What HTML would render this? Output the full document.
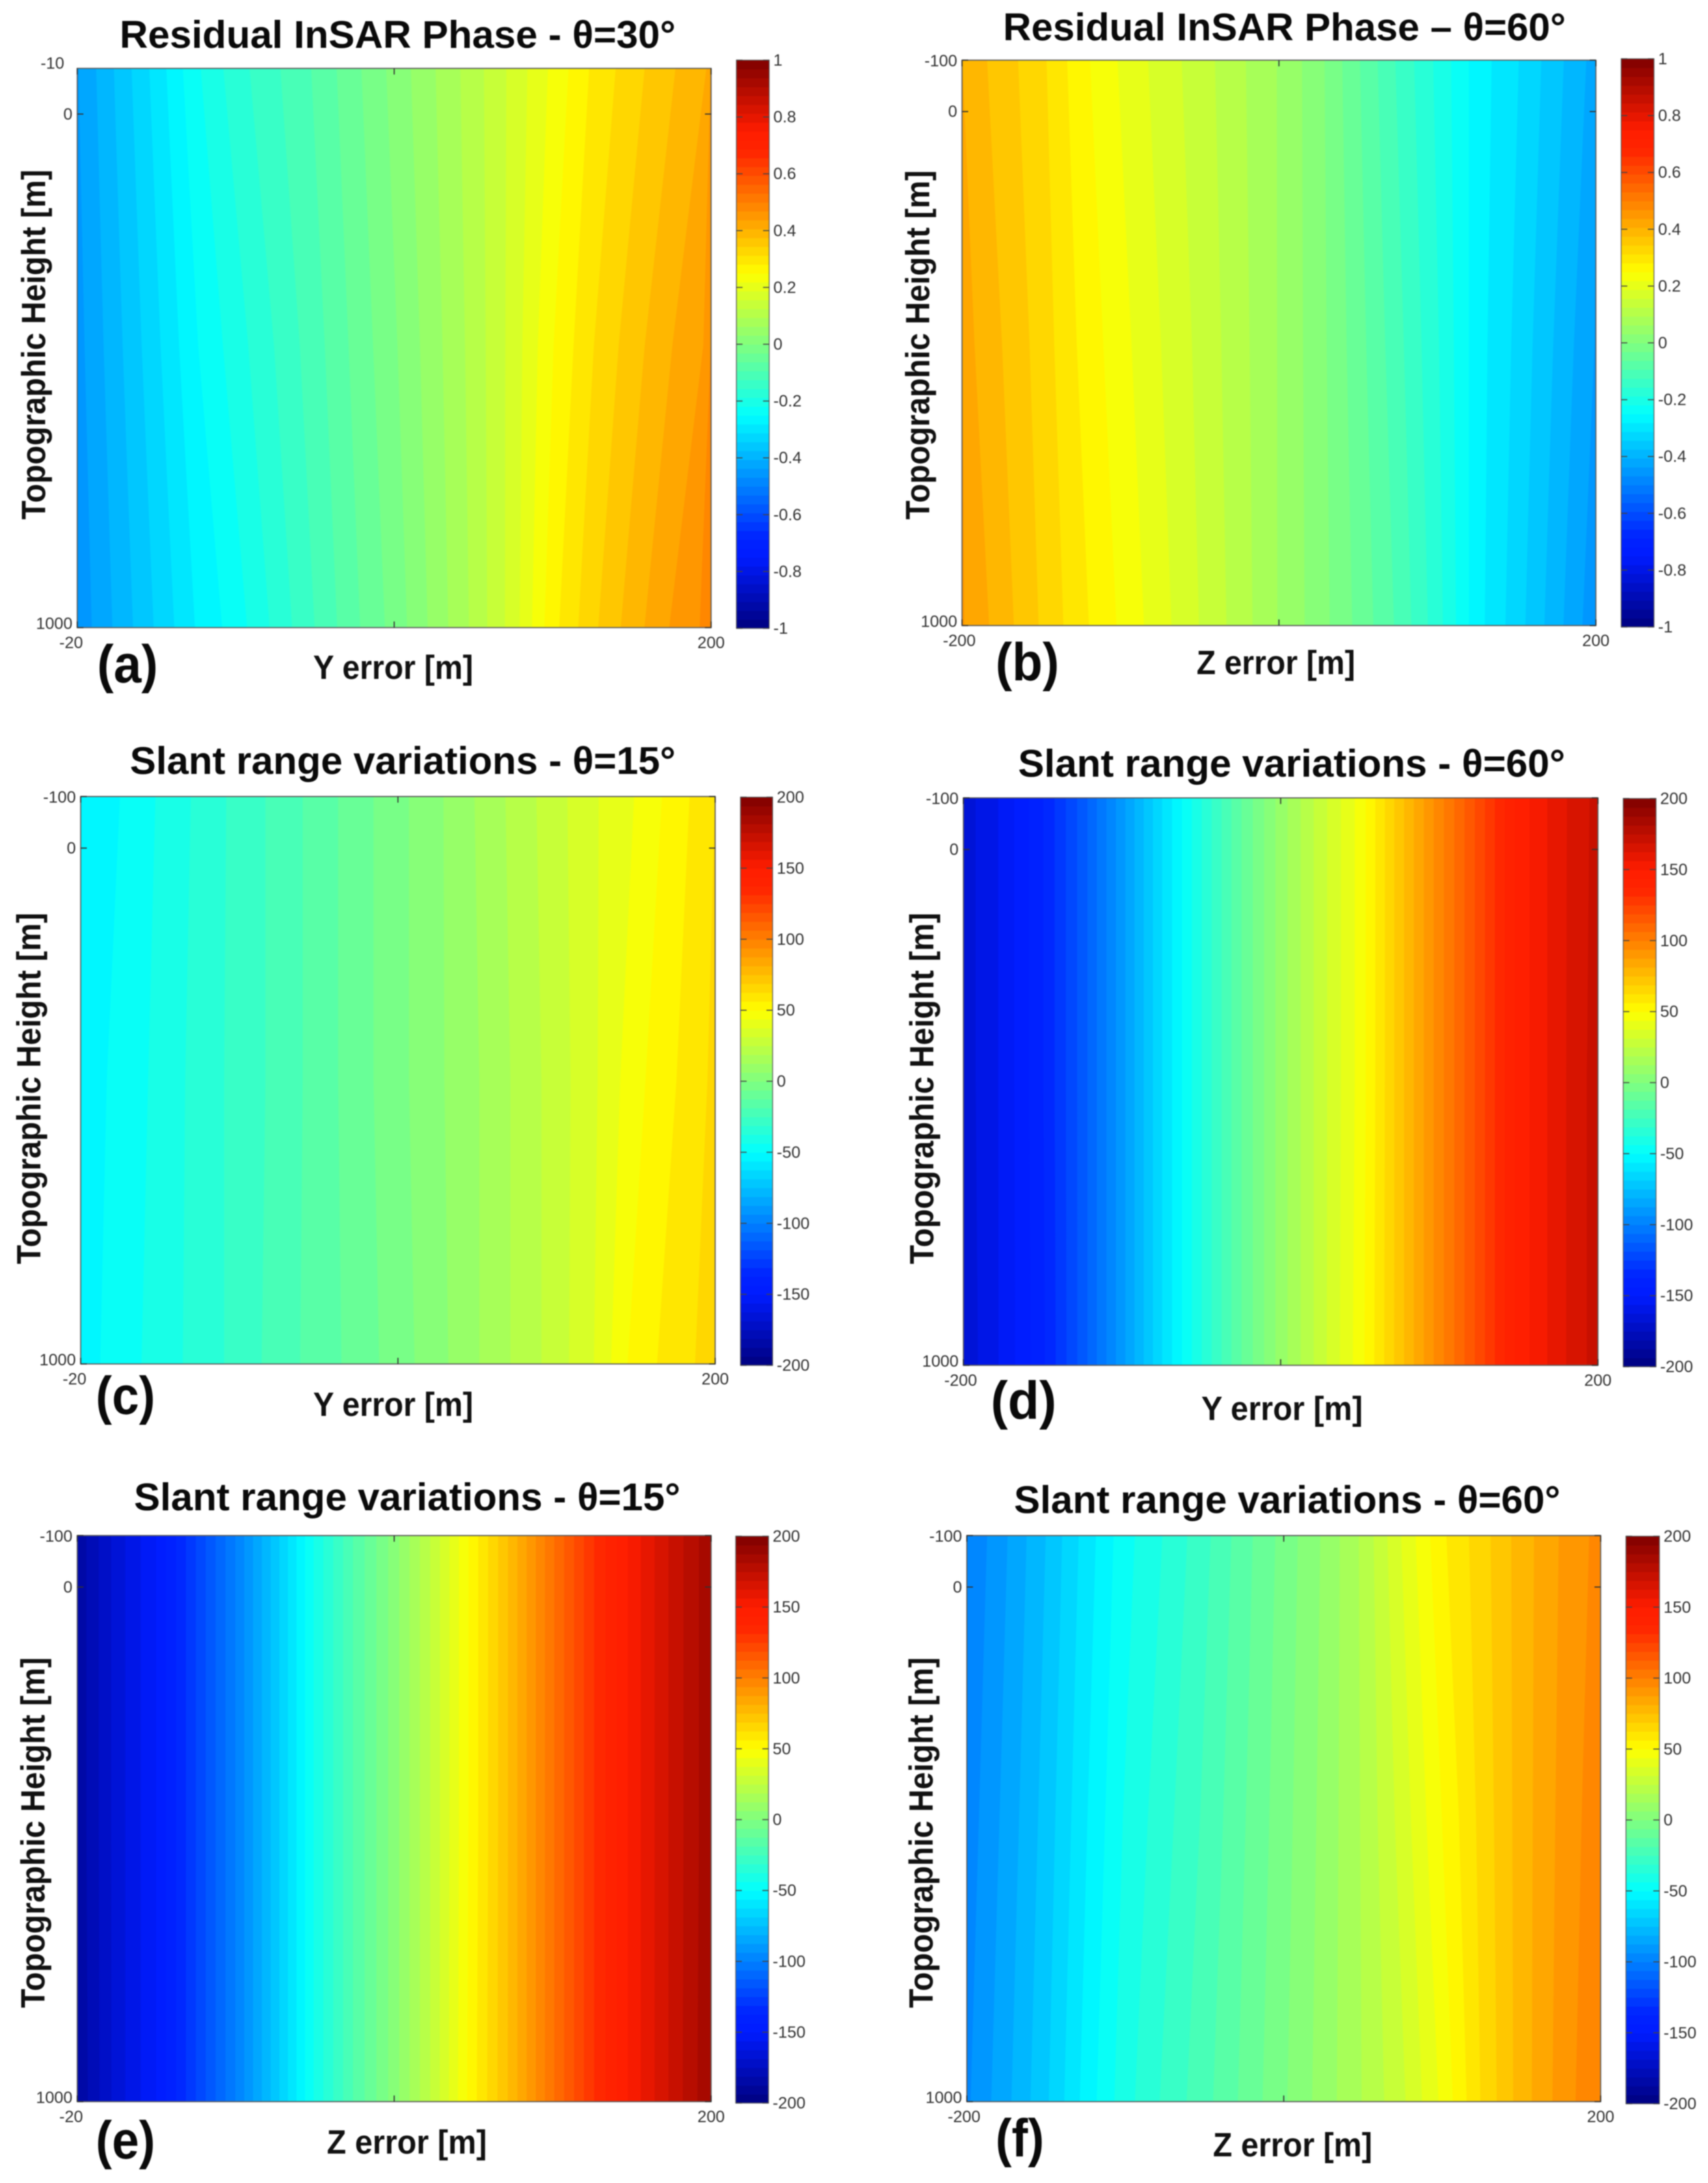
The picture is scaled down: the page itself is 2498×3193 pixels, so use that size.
<!DOCTYPE html>
<html lang="en">
<head>
<meta charset="utf-8">
<title>Residual InSAR Phase and Slant Range Variations</title>
<style>
html,body{margin:0;padding:0;background:#fff;width:2498px;height:3193px;overflow:hidden}
svg{display:block;filter:blur(0.7px)}
text{font-family:"Liberation Sans",sans-serif}
.title{font-size:57px;font-weight:700;fill:#0a0a0a}
.axis-title{font-size:49px;font-weight:700;fill:#111}
.tag{font-size:78px;font-weight:700;fill:#0a0a0a}
.tick{font-size:24px;fill:#333}
</style>
</head>
<body>
<svg id="figure" xmlns="http://www.w3.org/2000/svg" width="2498" height="3193" viewBox="0 0 2498 3193">
<rect width="2498" height="3193" fill="#fff"/>

<g id="panel-a">
<text class="title" x="175" y="70" textLength="813" lengthAdjust="spacingAndGlyphs">Residual InSAR Phase - θ=30°</text>
<text class="axis-title" transform="translate(66,760) rotate(-90)" textLength="512" lengthAdjust="spacingAndGlyphs">Topographic Height [m]</text>
<text class="axis-title" x="458" y="993" textLength="234" lengthAdjust="spacingAndGlyphs">Y error [m]</text>
<text class="tag" x="142" y="998" textLength="89" lengthAdjust="spacingAndGlyphs">(a)</text>
</g>

<g id="panel-b">
<text class="title" x="1467" y="59" textLength="823" lengthAdjust="spacingAndGlyphs">Residual InSAR Phase – θ=60°</text>
<text class="axis-title" transform="translate(1359,760) rotate(-90)" textLength="511" lengthAdjust="spacingAndGlyphs">Topographic Height [m]</text>
<text class="axis-title" x="1750" y="986" textLength="232" lengthAdjust="spacingAndGlyphs">Z error [m]</text>
<text class="tag" x="1456" y="995" textLength="93" lengthAdjust="spacingAndGlyphs">(b)</text>
</g>

<g id="panel-c">
<text class="title" x="190" y="1132" textLength="798" lengthAdjust="spacingAndGlyphs">Slant range variations - θ=15°</text>
<text class="axis-title" transform="translate(59,1849) rotate(-90)" textLength="514" lengthAdjust="spacingAndGlyphs">Topographic Height [m]</text>
<text class="axis-title" x="458" y="2071" textLength="234" lengthAdjust="spacingAndGlyphs">Y error [m]</text>
<text class="tag" x="140" y="2068" textLength="87" lengthAdjust="spacingAndGlyphs">(c)</text>
</g>

<g id="panel-d">
<text class="title" x="1489" y="1136" textLength="800" lengthAdjust="spacingAndGlyphs">Slant range variations - θ=60°</text>
<text class="axis-title" transform="translate(1365,1849) rotate(-90)" textLength="514" lengthAdjust="spacingAndGlyphs">Topographic Height [m]</text>
<text class="axis-title" x="1757" y="2077" textLength="236" lengthAdjust="spacingAndGlyphs">Y error [m]</text>
<text class="tag" x="1449" y="2075" textLength="96" lengthAdjust="spacingAndGlyphs">(d)</text>
</g>

<g id="panel-e">
<text class="title" x="196" y="2209" textLength="799" lengthAdjust="spacingAndGlyphs">Slant range variations - θ=15°</text>
<text class="axis-title" transform="translate(65,2937) rotate(-90)" textLength="513" lengthAdjust="spacingAndGlyphs">Topographic Height [m]</text>
<text class="axis-title" x="478" y="3150" textLength="234" lengthAdjust="spacingAndGlyphs">Z error [m]</text>
<text class="tag" x="140" y="3157" textLength="87" lengthAdjust="spacingAndGlyphs">(e)</text>
</g>

<g id="panel-f">
<text class="title" x="1483" y="2213" textLength="799" lengthAdjust="spacingAndGlyphs">Slant range variations - θ=60°</text>
<text class="axis-title" transform="translate(1364,2937) rotate(-90)" textLength="513" lengthAdjust="spacingAndGlyphs">Topographic Height [m]</text>
<text class="axis-title" x="1774" y="3154" textLength="233" lengthAdjust="spacingAndGlyphs">Z error [m]</text>
<text class="tag" x="1456" y="3154" textLength="71" lengthAdjust="spacingAndGlyphs">(f)</text>
</g>
</svg>

<script>
// ---- Shared axis data ----
const errorSamples = [-200,-175,-150,-125,-100,-75,-50,-25,0,25,50,75,100,125,150,175,200];
const heightSamples = [-100,450,1000];
const xTickValues = [-200,0,200];
const yTickValues = [-100,0,1000];
const xTickLabels = ['-200','','200'];
const yTickLabels = ['-100','0','1000'];
const phaseBarTicks = [-1,-0.8,-0.6,-0.4,-0.2,0,0.2,0.4,0.6,0.8,1];
const rangeBarTicks = [-200,-150,-100,-50,0,50,100,150,200];

// ---- Heatmap values: one array per height row ----
const phaseA_top = [-0.44,-0.37,-0.30,-0.225,-0.17,-0.13,-0.09,-0.04,0.01,0.06,0.11,0.165,0.225,0.285,0.33,0.37,0.41];
const phaseA_mid = [-0.45,-0.385,-0.32,-0.253,-0.203,-0.155,-0.107,-0.055,-0.005,0.05,0.105,0.168,0.248,0.31,0.36,0.405,0.445];
const phaseA_bot = [-0.46,-0.40,-0.34,-0.28,-0.235,-0.18,-0.125,-0.07,-0.02,0.04,0.10,0.17,0.27,0.335,0.39,0.44,0.48];

const phaseB_top = [0.40,0.36,0.32,0.26,0.215,0.175,0.14,0.10,0.06,0.01,-0.06,-0.13,-0.195,-0.265,-0.31,-0.365,-0.42];
const phaseB_mid = [0.42,0.375,0.33,0.275,0.23,0.188,0.148,0.105,0.06,0.012,-0.05,-0.115,-0.185,-0.268,-0.32,-0.38,-0.44];
const phaseB_bot = [0.44,0.39,0.34,0.29,0.245,0.20,0.155,0.11,0.06,0.015,-0.04,-0.10,-0.175,-0.27,-0.33,-0.395,-0.46];

const rangeC_top = [-56,-50,-43,-36,-29,-23,-16,-9,-2,5,13,21,29,37,44,53,62];
const rangeC_mid = [-54,-48,-42,-35,-29,-23,-16,-9,-2,5,12,20,28,37,48,56,64];
const rangeC_bot = [-53,-47,-41,-35,-29,-22,-16,-10,-3,4,12,20,28,38,53,59,66];

const rangeD_top = [-166,-155,-138,-116,-90,-63,-38,-13,9,28,46,72,97,121,146,160,171];
const rangeD_mid = [-166,-155,-138,-116,-90,-63,-38,-13,9,28,46,72,97,121,146,160,172];
const rangeD_bot = [-167,-155,-139,-116,-90,-63,-38,-13,9,28,47,72,97,121,146,160,172];

const rangeE_top = [-186,-166,-150,-125,-100,-72,-43,-18,3,27,53,78,105,130,152,170,186];
const rangeE_mid = [-186,-166,-150,-125,-100,-72,-43,-18,3,27,53,78,105,130,152,170,186];
const rangeE_bot = [-187,-166,-150,-125,-100,-72,-43,-18,3,27,54,78,105,130,152,170,187];

const rangeF_top = [-100,-88,-75,-60,-46,-37,-27,-15,-4,7,20,38,55,66,78,88,96];
const rangeF_mid = [-97.5,-85.5,-72.5,-57,-43,-33.5,-24,-13,-2.5,8,19.5,34,50,64.5,78,89,98];
const rangeF_bot = [-95,-83,-70,-54,-40,-30,-21,-11,-1,9,19,30,45,63,78,90,100];

// ---- Layout only (no data) ----
const SVG_NS = 'http://www.w3.org/2000/svg';
const LEVEL_COUNT = 64;
const HEIGHT_MAX = 1000;
const ERROR_MIN = -200;
const ERROR_MAX = 200;

function jetChannel(v){ return Math.round(255*Math.max(0,Math.min(1,v))); }
function jetColor(t){
  const r = jetChannel(Math.min(4*t-1.5,-4*t+4.5));
  let g = jetChannel(Math.min(4*t-0.5,-4*t+3.5));
  const b = jetChannel(Math.min(4*t+0.5,-4*t+2.5));
  if(t>0.7) g = Math.max(g,Math.round(230*(1-t)));
  if(t<0.2) g = Math.max(g,Math.round(220*t));
  return 'rgb('+r+','+g+','+b+')';
}

function crossing(values, level){
  const last = values.length-1;
  for(let i=0;i<last;i++){
    const a = values[i], b = values[i+1];
    if((a<=level&&level<=b)||(b<=level&&level<=a)){
      if(a===b) return errorSamples[i];
      return errorSamples[i]+(level-a)/(b-a)*(errorSamples[i+1]-errorSamples[i]);
    }
  }
  const ascending = values[last]>values[0];
  const belowAll = level<Math.min.apply(null,values);
  return belowAll===ascending ? errorSamples[0] : errorSamples[last];
}

function svgEl(tag, attrs, parent){
  const el = document.createElementNS(SVG_NS, tag);
  for(const k in attrs) el.setAttribute(k, attrs[k]);
  parent.appendChild(el);
  return el;
}

function drawPanel(p){
  const root = document.getElementById('panel-'+p.id);
  const xScale = v => p.left+(v-ERROR_MIN)/(ERROR_MAX-ERROR_MIN)*(p.right-p.left);
  const yScale = v => p.top+(v-p.heightMin)/(HEIGHT_MAX-p.heightMin)*(p.bottom-p.top);
  const barScale = v => p.barBottom-(v+p.range)/(2*p.range)*(p.barBottom-p.barTop);

  const clip = svgEl('clipPath',{id:'clip-'+p.id},root);
  svgEl('rect',{x:p.left,y:p.top,width:p.right-p.left,height:p.bottom-p.top},clip);

  const map = svgEl('g',{'clip-path':'url(#clip-'+p.id+')'},root);
  
  

  const step = 2*p.range/LEVEL_COUNT;
  for(let k=0;k<LEVEL_COUNT;k++){
    const lo = -p.range+k*step, hi = lo+step;
    const forward = [], back = [];
    let width = 0;
    p.rows.forEach((values,r)=>{
      const y = yScale(heightSamples[r]);
      const xa = xScale(crossing(values,lo));
      const xb = xScale(crossing(values,hi));
      width += Math.abs(xb-xa);
      forward.push(xa.toFixed(2)+','+y.toFixed(2));
      back.unshift(xb.toFixed(2)+','+y.toFixed(2));
    });
    if(width<0.01) continue;
    const colour = jetColor((k+0.5)/LEVEL_COUNT);
    const band = svgEl('polygon',{points:forward.concat(back).join(' '),fill:colour,stroke:colour,'stroke-width':1},map);
    
    
  }

  const frame = svgEl('rect',{x:p.left,y:p.top,width:p.right-p.left,height:p.bottom-p.top,fill:'none',stroke:'#5a5a5a','stroke-width':1.6},root);
  
  

  xTickValues.forEach((v,i)=>{
    const x = xScale(v);
    const t1 = svgEl('line',{x1:x,x2:x,y1:p.bottom,y2:p.bottom-9,stroke:'#333','stroke-width':1.6},root);
    
    
    const t2 = svgEl('line',{x1:x,x2:x,y1:p.top,y2:p.top+9,stroke:'#333','stroke-width':1.6},root);
    
    
    if(xTickLabels[i]){
      const shift = (i===0) ? (p.shortLow ? -9 : -4) : 0;
      const lab = svgEl('text',{x:x+shift,y:p.bottom+30,'text-anchor':'middle','class':'tick'},root);
      lab.textContent = (i===0&&p.shortLow)?'-20':xTickLabels[i];
      
      
    }
  });
  yTickValues.forEach((v,i)=>{
    const y = yScale(v);
    if(y>=p.top-0.5){
      const t1 = svgEl('line',{x1:p.left,x2:p.left+9,y1:y,y2:y,stroke:'#333','stroke-width':1.6},root);
      
      
      const t2 = svgEl('line',{x1:p.right,x2:p.right-9,y1:y,y2:y,stroke:'#333','stroke-width':1.6},root);
      
      
    }
    const shortTop = (i===0&&p.shortTop);
    const lab = svgEl('text',{x:p.left-7-(shortTop?12:0),y:y+8-(i===2?6:0)+(i===0?1:0),'text-anchor':'end','class':'tick'},root);
    lab.textContent = shortTop?'-10':yTickLabels[i];
    
    
  });

  const bar = svgEl('g',{},root);
  
  
  for(let k=0;k<LEVEL_COUNT;k++){
    const lo = -p.range+k*step, hi = lo+step;
    const yHi = barScale(hi), yLo = barScale(lo);
    const swatch = svgEl('rect',{x:p.barLeft,y:yHi,width:p.barRight-p.barLeft,height:yLo-yHi+0.6,fill:jetColor((k+0.5)/LEVEL_COUNT)},bar);
    
    
  }
  const barFrame = svgEl('rect',{x:p.barLeft,y:p.barTop,width:p.barRight-p.barLeft,height:p.barBottom-p.barTop,fill:'none',stroke:'#5a5a5a','stroke-width':1.2},bar);
  
  

  p.barTicks.forEach(v=>{
    const y = barScale(v);
    const tr = svgEl('line',{x1:p.barRight-9,x2:p.barRight,y1:y,y2:y,stroke:'#444','stroke-width':1.4},bar);
    
    
    const tl = svgEl('line',{x1:p.barLeft,x2:p.barLeft+9,y1:y,y2:y,stroke:'#444','stroke-width':1.4},bar);
    
    
    const lab = svgEl('text',{x:p.barRight+6,y:y+8,'class':'tick'},bar);
    lab.textContent = String(v);
    
    
  });
}

drawPanel({id:'a',heightMin:-89,left:113,right:1040,top:100,bottom:918,barLeft:1077,barRight:1125,barTop:88,barBottom:919,range:1,barTicks:phaseBarTicks,rows:[phaseA_top,phaseA_mid,phaseA_bot],shortTop:true,shortLow:true});
drawPanel({id:'b',heightMin:-100,left:1407,right:2334,top:88,bottom:915,barLeft:2371,barRight:2419,barTop:86,barBottom:917,range:1,barTicks:phaseBarTicks,rows:[phaseB_top,phaseB_mid,phaseB_bot]});
drawPanel({id:'c',heightMin:-100,left:118,right:1046,top:1165,bottom:1995,barLeft:1083,barRight:1130,barTop:1166,barBottom:1997,range:200,barTicks:rangeBarTicks,rows:[rangeC_top,rangeC_mid,rangeC_bot],shortLow:true});
drawPanel({id:'d',heightMin:-100,left:1409,right:2337,top:1167,bottom:1997,barLeft:2374,barRight:2422,barTop:1168,barBottom:1999,range:200,barTicks:rangeBarTicks,rows:[rangeD_top,rangeD_mid,rangeD_bot]});
drawPanel({id:'e',heightMin:-100,left:113,right:1040,top:2246,bottom:3074,barLeft:1076,barRight:1124,barTop:2247,barBottom:3076,range:200,barTicks:rangeBarTicks,rows:[rangeE_top,rangeE_mid,rangeE_bot],shortLow:true});
drawPanel({id:'f',heightMin:-100,left:1414,right:2341,top:2246,bottom:3074,barLeft:2378,barRight:2427,barTop:2247,barBottom:3077,range:200,barTicks:rangeBarTicks,rows:[rangeF_top,rangeF_mid,rangeF_bot]});
</script>
</body>
</html>
